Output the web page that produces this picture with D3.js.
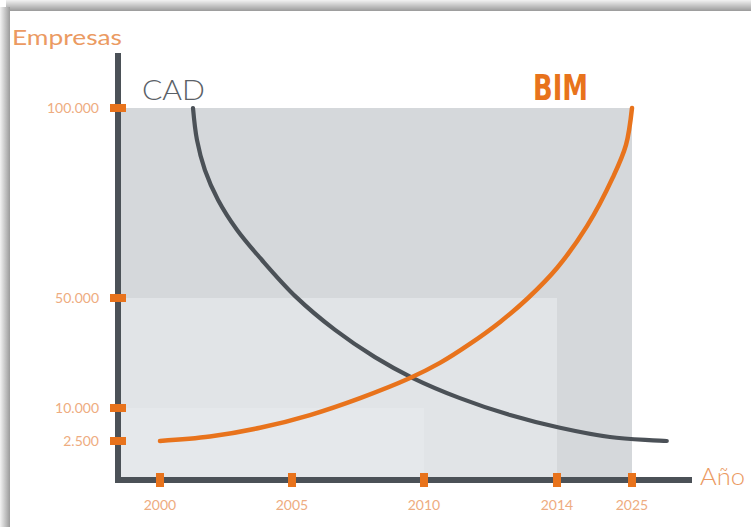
<!DOCTYPE html>
<html>
<head>
<meta charset="utf-8">
<script src="https://cdn.jsdelivr.net/npm/d3@7"></script>
<style>
  html, body { margin: 0; padding: 0; background: #fff; }
  svg { display: block; }
</style>
</head>
<body>
<svg id="chart" width="751" height="527"></svg>
<script>
// Tick values on each axis
const yearTicks = [2000, 2005, 2010, 2014, 2025];
const companyTicks = [2500, 10000, 50000, 100000];

// Adoption curves: [year, number of companies]
const cadYears  = [2001.25, 2001.40, 2001.70, 2002.20, 2002.92, 2003.86, 2005.15, 2006.63, 2008.14, 2009.58, 2011.08, 2012.59, 2014.44, 2021.77, 2028.0];
const cadValues = [100000, 91600, 83700, 75800, 67900, 60000, 50300, 38400, 28500, 20900, 13600, 8400, 5500, 3400, 2500];
const bimYears  = [2000, 2001.89, 2003.79, 2005.68, 2007.58, 2009.47, 2010.48, 2011.38, 2012.29, 2013.13, 2014, 2018.40, 2022.21, 2024.12, 2025];
const bimValues = [2500, 3500, 5500, 8400, 13600, 20900, 26400, 33300, 41300, 50000, 57900, 68900, 81800, 90300, 100000];

// Shaded bands: [up to year, up to companies, fill]
const bandYears  = [2025, 2014, 2010];
const bandValues = [100000, 50000, 10000];
const bandFills  = ["#d5d8db", "#e1e4e7", "#e5e8eb"];

const svg = d3.select("#chart");
const orange = "#e8731c";
const axisGrey = "#4b5157";
const labelColor = "#eeac80";

// Frame shading along the top and left edges
const defs = svg.append("defs");
const gTop = defs.append("linearGradient").attr("id", "edgeTop")
  .attr("x1", 0).attr("y1", 0).attr("x2", 0).attr("y2", 1);
gTop.append("stop").attr("offset", "0%").attr("stop-color", "#f2f2f2");
gTop.append("stop").attr("offset", "75%").attr("stop-color", "#b0b0b0");
gTop.append("stop").attr("offset", "100%").attr("stop-color", "#9a9a9a");
const gLeft = defs.append("linearGradient").attr("id", "edgeLeft")
  .attr("x1", 0).attr("y1", 0).attr("x2", 1).attr("y2", 0);
gLeft.append("stop").attr("offset", "0%").attr("stop-color", "#f2f2f2");
gLeft.append("stop").attr("offset", "75%").attr("stop-color", "#b0b0b0");
gLeft.append("stop").attr("offset", "100%").attr("stop-color", "#9a9a9a");
svg.append("rect").attr("x", 6).attr("y", 0).attr("width", 745).attr("height", 11).attr("fill", "url(#edgeTop)");
svg.append("rect").attr("x", 0).attr("y", 7).attr("width", 10).attr("height", 520).attr("fill", "url(#edgeLeft)");
svg.append("rect").attr("x", 10).attr("y", 11).attr("width", 741).attr("height", 516).attr("fill", "#fff");

// Piecewise scales: ticks sit at uneven spacing
const x = d3.scaleLinear()
  .domain([1998.4, 2000, 2005, 2010, 2014, 2025, 2030])
  .range([118, 160, 292, 424, 557, 632, 690]);
const y = d3.scaleLinear()
  .domain([0, 2500, 10000, 50000, 100000])
  .range([480, 441, 408, 298, 108]);

const x0 = x(1998.4), y0 = y(0);

// Nested shaded bands
svg.append("g").selectAll("rect")
  .data(d3.range(bandYears.length))
  .join("rect")
  .attr("x", x0)
  .attr("y", i => y(bandValues[i]))
  .attr("width", i => x(bandYears[i]) - x0)
  .attr("height", i => y0 - y(bandValues[i]))
  .attr("fill", i => bandFills[i]);

// Curves
const line = d3.line()
  .x(d => x(d[0]))
  .y(d => y(d[1]))
  .curve(d3.curveCatmullRom.alpha(0.5));

svg.append("path")
  .datum(cadYears.map((t, i) => [t, cadValues[i]]))
  .attr("d", line)
  .attr("fill", "none")
  .attr("stroke", axisGrey)
  .attr("stroke-width", 4.2)
  .attr("stroke-linecap", "round");

svg.append("path")
  .datum(bimYears.map((t, i) => [t, bimValues[i]]))
  .attr("d", line)
  .attr("fill", "none")
  .attr("stroke", orange)
  .attr("stroke-width", 4.5)
  .attr("stroke-linecap", "round");

// Axis lines
svg.append("line")
  .attr("x1", x0).attr("x2", x0)
  .attr("y1", 53).attr("y2", y0 + 3)
  .attr("stroke", axisGrey).attr("stroke-width", 6);
svg.append("line")
  .attr("x1", x0 - 3).attr("x2", 692)
  .attr("y1", y0).attr("y2", y0)
  .attr("stroke", axisGrey).attr("stroke-width", 6);

// Number format with dot as thousands separator
const fmt = d3.formatLocale({ decimal: ",", thousands: ".", grouping: [3], currency: ["", "€"] }).format(",d");

// Y ticks and labels
const yt = svg.append("g");
yt.selectAll("rect")
  .data(companyTicks)
  .join("rect")
  .attr("x", x0 - 8).attr("y", d => y(d) - 4)
  .attr("width", 16).attr("height", 8)
  .attr("fill", orange);
yt.selectAll("text")
  .data(companyTicks)
  .join("text")
  .attr("x", 99).attr("y", d => y(d))
  .attr("dy", "0.35em")
  .attr("text-anchor", "end")
  .attr("font-family", "Lato, 'Open Sans', sans-serif")
  .attr("font-size", 14)
  .attr("fill", labelColor)
  .text(d => fmt(d));

// X ticks and labels
const xt = svg.append("g");
xt.selectAll("rect")
  .data(yearTicks)
  .join("rect")
  .attr("x", d => x(d) - 4).attr("y", y0 - 7)
  .attr("width", 8).attr("height", 14)
  .attr("fill", orange);
xt.selectAll("text")
  .data(yearTicks)
  .join("text")
  .attr("x", d => x(d)).attr("y", 510)
  .attr("text-anchor", "middle")
  .attr("font-family", "Lato, 'Open Sans', sans-serif")
  .attr("font-size", 14)
  .attr("fill", labelColor)
  .text(d => d);

// Axis titles
svg.append("text")
  .attr("x", 12).attr("y", 45)
  .attr("font-family", "Lato, 'Open Sans', sans-serif")
  .attr("font-size", 21)
  .attr("textLength", 110).attr("lengthAdjust", "spacingAndGlyphs")
  .attr("fill", "#eb9a62")
  .text("Empresas");
svg.append("text")
  .attr("x", 700).attr("y", 485)
  .attr("font-family", "Lato, 'Open Sans', sans-serif")
  .attr("font-weight", 300)
  .attr("font-size", 23)
  .attr("textLength", 45).attr("lengthAdjust", "spacingAndGlyphs")
  .attr("fill", "#eb9a62")
  .text("Año");

// Series names
svg.append("text")
  .attr("x", 142).attr("y", 100)
  .attr("font-family", "Lato, 'Open Sans', sans-serif")
  .attr("font-weight", 300)
  .attr("font-size", 28)
  .attr("textLength", 63).attr("lengthAdjust", "spacingAndGlyphs")
  .attr("fill", "#5b6167")
  .text("CAD");
svg.append("text")
  .attr("x", 533).attr("y", 100)
  .attr("font-family", "'Liberation Sans Narrow', 'DejaVu Sans Condensed', 'Liberation Sans', sans-serif")
  .attr("font-weight", "bold")
  .attr("font-size", 36)
  .attr("textLength", 55).attr("lengthAdjust", "spacingAndGlyphs")
  .attr("fill", orange)
  .text("BIM");
</script>
</body>
</html>
